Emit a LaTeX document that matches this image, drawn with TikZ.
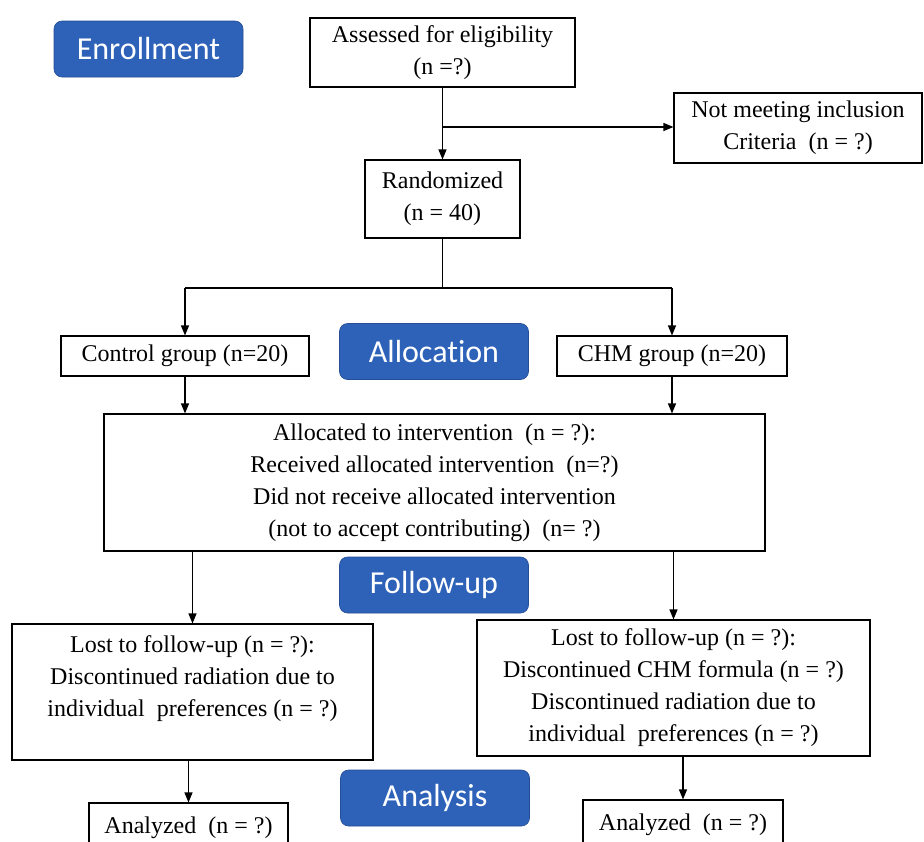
\documentclass[tikz,border=0pt]{standalone}
\usepackage{fontspec}
\setmainfont{Liberation Serif}
\newfontfamily\phasefont[Ligatures=NoCommon,Contextuals=NoAlternate]{Carlito}
\usepackage{tikz}
\usetikzlibrary{arrows.meta}
\definecolor{phaseblue}{RGB}{46,98,185}

\begin{document}
\begin{tikzpicture}[x=1pt, y=-1pt, line width=1.1pt,
    box/.style={draw, rectangle, align=center, inner sep=0pt, font=\fontsize{24}{32}\selectfont},
    phase/.style={rectangle, rounded corners=8pt, fill=phaseblue, draw=phaseblue!80!black, line width=0.6pt,
        text=white, minimum width=189pt, minimum height=56pt, inner sep=0pt, font=\phasefont\fontsize{32}{36}\selectfont},
    arr/.style={-{Triangle[length=10pt,width=8pt]}}]
        \useasboundingbox (0,0) rectangle (924,841);
        \clip (0,0) rectangle (924,841);
        % Nodes
        \node (enroll) [phase] at (148.5,49) {Enrollment};
        \node (assess) [box, minimum width=265pt, minimum height=69pt] at (442.5,52.5) {Assessed for eligibility\\(n =?)};
        \node (notmeet) [box, minimum width=248pt, minimum height=70pt] at (798,128) {Not meeting inclusion\\Criteria~ (n = ?)};
        \node (random) [box, minimum width=155pt, minimum height=78pt] at (442.5,199) {Randomized\\(n = 40)};
        \node (control) [box, minimum width=248pt, minimum height=40pt] at (185,356) {Control group (n=20)};
        \node (alloc) [phase] at (434,351.5) {Allocat\kern0pt ion};
        \node (chm) [box, minimum width=230pt, minimum height=40pt] at (672,356) {CHM group (n=20)};
        \node (interv) [box, minimum width=661pt, minimum height=137pt] at (434.5,482.5) {Allocated to intervention~ (n = ?):\\Received allocated intervention~ (n=?)\\Did not receive allocated intervention\\(not to accept contributing)~ (n= ?)};
        \node (follow) [phase] at (434,585) {Follow-up};
        \node (lostctl) [box, minimum width=361pt, minimum height=136pt] at (192.5,692) {Lost to follow-up (n = ?):\\Discontinued radiation due to\\individual~ preferences (n = ?)\\~};
        \node (lostchm) [box, minimum width=393pt, minimum height=136pt] at (673.5,688) {Lost to follow-up (n = ?):\\Discontinued CHM formula (n = ?)\\Discontinued radiation due to\\individual~ preferences (n = ?)};
        \node (analysis) [phase] at (435,798) {Analysis};
        \node (anactl) [box, minimum width=199pt, minimum height=50pt] at (188.5,828) {Analyzed~ (n = ?)};
        \node (anachm) [box, minimum width=200pt, minimum height=50pt] at (683,825) {Analyzed~ (n = ?)};
        \coordinate (split) at (442.5,127);
        \coordinate (fork) at (442.5,288);

        % Edges
        \draw[arr] (assess) -- (random);
        \draw[arr] (split) -- (split -| notmeet.west);
        \draw (random.south) -- (fork);
        \draw (fork -| control) -- (fork -| chm);
        \draw[arr] (fork -| control) -- (control);
        \draw[arr] (fork -| chm) -- (chm);
        \draw[arr] (control.south) -- (control.south |- interv.north);
        \draw[arr] (chm.south) -- (chm.south |- interv.north);
        \draw[arr] (lostctl.north |- interv.south) -- (lostctl.north);
        \draw[arr] (lostchm.north |- interv.south) -- (lostchm.north);
        \draw[arr] (anactl.north |- lostctl.south) -- (anactl.north);
        \draw[arr] (anachm.north |- lostchm.south) -- (anachm.north);
    \end{tikzpicture}
\end{document}
